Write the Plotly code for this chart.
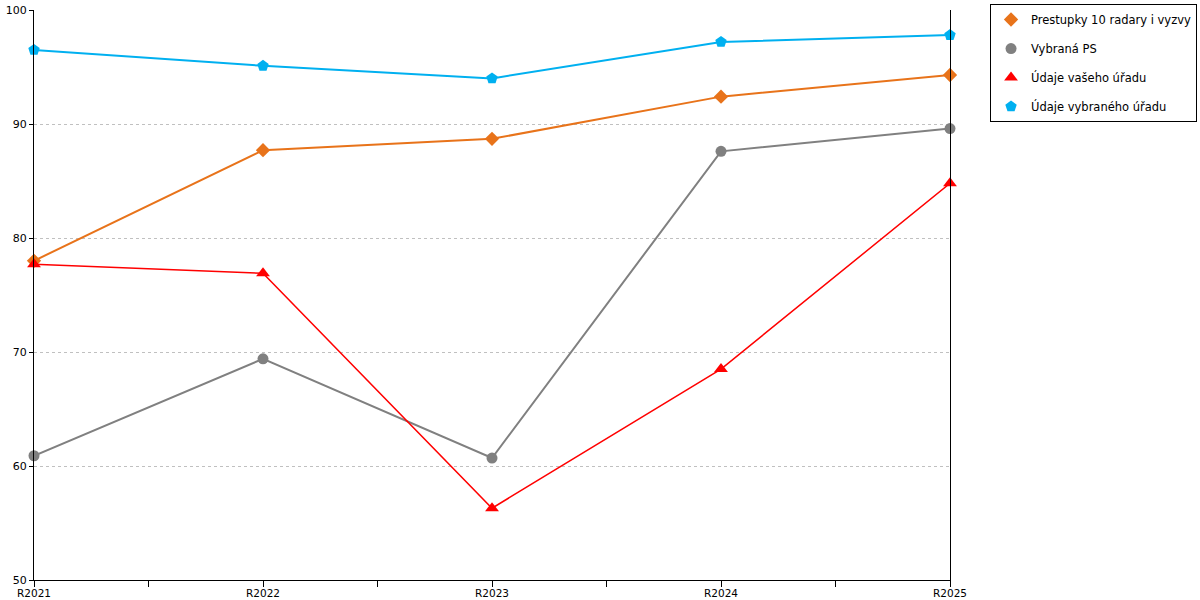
import plotly.graph_objects as go

# years on the x axis
categories = ["R2021", "R2022", "R2023", "R2024", "R2025"]

prestupky = [78.0, 87.7, 88.7, 92.4, 94.3]
vybrana_ps = [60.9, 69.4, 60.7, 87.6, 89.6]
udaje_vaseho = [77.7, 76.9, 56.3, 68.5, 84.8]
udaje_vybraneho = [96.5, 95.1, 94.0, 97.2, 97.8]

y_ticks = [50, 60, 70, 80, 90, 100]

x_pos = list(range(len(categories)))

series = [
    ("Prestupky 10 radary i vyzvy", prestupky, "#E8731A", "diamond", 2, 11),
    ("Vybraná PS", vybrana_ps, "#808080", "circle", 2, 11),
    ("Údaje vašeho úřadu", udaje_vaseho, "#FF0000", "triangle-up", 1.5, 12),
    ("Údaje vybraného úřadu", udaje_vybraneho, "#00B0F0", "pentagon", 2, 12),
]

fig = go.Figure()
for i, (name, vals, color, symbol, lw, ms) in enumerate(series):
    fig.add_trace(go.Scatter(
        x=x_pos, y=vals, name=name, mode="lines+markers",
        line=dict(color=color, width=lw),
        marker=dict(color=color, symbol=symbol, size=ms),
        legendgroup=f"g{i}", showlegend=False,
        cliponaxis=False,
    ))
    # legend entry shows only the marker, like the original
    fig.add_trace(go.Scatter(
        x=[None], y=[None], name=name, mode="markers",
        marker=dict(color=color, symbol=symbol, size=ms),
        legendgroup=f"g{i}", showlegend=True,
    ))

fig.update_layout(
    width=1200, height=600,
    margin=dict(l=34, r=250, t=10, b=20, autoexpand=False),
    paper_bgcolor="white", plot_bgcolor="white",
    font=dict(family="DejaVu Sans", size=11, color="black"),
    legend=dict(
        x=1.0437, y=1.0105, xanchor="left", yanchor="top",
        bordercolor="black", borderwidth=1,
        font=dict(size=11.5), tracegroupgap=10,
    ),
    showlegend=True,
)
fig.update_xaxes(
    range=[0, len(categories) - 1],
    tickvals=x_pos, ticktext=categories,
    showline=True, linecolor="black", linewidth=1,
    ticks="outside", ticklen=3, tickcolor="black",
    tickfont=dict(size=10.5),
    minor=dict(dtick=0.5, tick0=0, ticks="outside", ticklen=6, tickcolor="black"),
    showgrid=False, zeroline=False, automargin=False,
)
fig.update_yaxes(
    range=[50, 100], tickvals=y_ticks,
    showline=True, linecolor="black", linewidth=1, mirror=True,
    ticks="outside", ticklen=4, tickcolor="black",
    showgrid=True, gridcolor="#C0C0C0", griddash="dot", gridwidth=1,
    zeroline=False, automargin=False,
)

# page has a default 8px body margin, drop it so the chart sits at 0,0
fig.write_html(
    "out.html",
    config={"displayModeBar": False},
    post_script="document.body.style.margin='0';",
)
